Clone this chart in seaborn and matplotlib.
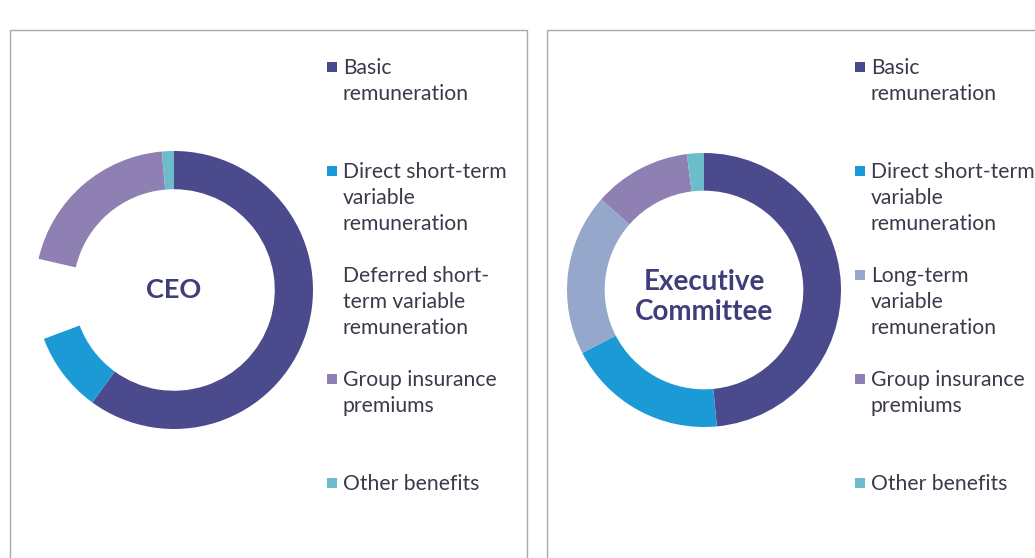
import matplotlib.pyplot as plt
import matplotlib.patches as mpatches
import seaborn as sns

# Remuneration split (share of total, %)
ceo_labels = ["Basic\nremuneration",
              "Direct short-term\nvariable\nremuneration",
              "Deferred short-\nterm variable\nremuneration",
              "Group insurance\npremiums",
              "Other benefits"]
ceo_values = [60.0, 9.3, 9.3, 20.0, 1.4]
ceo_colors = ["#4a4a8c", "#1b9ad6", "#ffffff", "#8f80b3", "#6cbccc"]

exco_labels = ["Basic\nremuneration",
               "Direct short-term\nvariable\nremuneration",
               "Long-term\nvariable\nremuneration",
               "Group insurance\npremiums",
               "Other benefits"]
exco_values = [48.5, 18.9, 19.1, 11.5, 2.0]
exco_colors = ["#4a4a8c", "#1b9ad6", "#95a8cb", "#8f80b3", "#6cbccc"]

sns.set_theme(style="white")
plt.rcParams['font.family'] = ['Lato', 'DejaVu Sans']

W, H = 1035, 558
fig = plt.figure(figsize=(W / 100, H / 100), dpi=100)
fig.patch.set_facecolor("white")


def fx(px):
    return px / W


def fy(py):
    return 1 - py / H


# panel frames
for x0, x1 in [(10, 527), (547, 1040)]:
    fig.add_artist(mpatches.Rectangle((fx(x0), fy(570)), fx(x1 - x0), (570 - 30) / H,
                                      transform=fig.transFigure, fill=False,
                                      edgecolor="#a8a8a8", linewidth=1))


def donut(cx, cy, r, values, colors, title, fsize, dy=0.0):
    ax = fig.add_axes([fx(cx - r), fy(cy + r), fx(2 * r), 2 * r / H])
    ax.pie(values, colors=colors, startangle=90, counterclock=False,
           wedgeprops=dict(width=0.275, edgecolor="none"))
    ax.set_xlim(-1, 1)
    ax.set_ylim(-1, 1)
    ax.set_aspect("auto")
    ax.axis("off")
    ax.text(0, dy, title, ha="center", va="center", fontsize=fsize,
            fontweight="bold", color="#3f3d7a", linespacing=1.2)


def legend(x, labels, colors):
    baselines = [75, 179, 283, 387, 491]
    for yy, lab, col in zip(baselines, labels, colors):
        fig.add_artist(mpatches.Rectangle((fx(x), fy(yy - 3)), fx(10), 10 / H,
                                          transform=fig.transFigure,
                                          facecolor=col, edgecolor="none"))
        fig.text(fx(x + 16), fy(yy - 17), lab, ha="left", va="top",
                 fontsize=15.2, color="#3a3a4a", linespacing=1.38)


donut(174, 290, 139, ceo_values, ceo_colors, "CEO", 19.5)
donut(704, 290, 137, exco_values, exco_colors, "Executive\nCommittee", 20, dy=-0.05)
legend(327, ceo_labels, ceo_colors)
legend(855, exco_labels, exco_colors)

fig.savefig("out.png", dpi=100)
